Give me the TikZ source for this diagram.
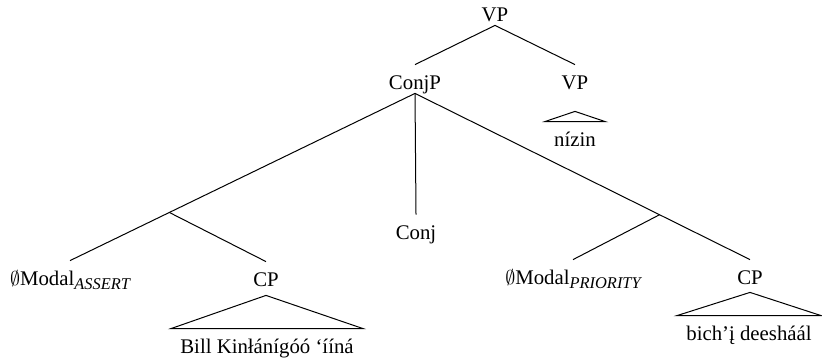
\documentclass[tikz,border=0pt]{standalone}
\usepackage{fontspec}
\setmainfont{Liberation Serif}
\usepackage{tikz}
\usetikzlibrary{calc}
\newcommand{\modsub}[1]{\raisebox{-2pt}{\fontsize{8.2}{9}\selectfont\itshape #1}}

\begin{document}
\begin{tikzpicture}[
    x=0.5pt, y=-0.5pt,
    synnode/.style={inner sep=0pt, anchor=base, text height=12pt, text depth=2pt,
        font=\fontsize{10.4}{12}\selectfont},
    roofleaf/.style={synnode, inner xsep=4.5pt},
    branch/.style={line width=0.5pt}
]
\useasboundingbox (0,0) rectangle (822,360);

\node[synnode] (vp) at (495,21) {VP};
\node[synnode] (conjp) at (415,89) {ConjP};
\node[synnode] (vpr) at (575,89) {VP};
\node[roofleaf] (nizin) at (575,146) {nízin};

\node[synnode] (conj) at (416,239) {Conj};
\node[synnode] (modA) at (70,285) {$\emptyset$Modal\modsub{ASSERT}};
\node[synnode] (cpA) at (266,286) {CP};
\node[roofleaf] (bill) at (267,353) {Bill Kinłánígóó ‘ííná};
\node[synnode] (modP) at (573,284) {$\emptyset$Modal\modsub{PRIORITY}};
\node[synnode] (cpP) at (750,284) {CP};
\node[roofleaf] (bich) at (749,340) {bich’į deesháál};

\coordinate (bA) at ($(conjp.south)!0.712!(modA.north)$);
\coordinate (bP) at ($(conjp.south)!0.73!(cpP.north)$);

\draw[branch] (vp.south) -- (conjp.north);
\draw[branch] (vp.south) -- (vpr.north);
\draw[branch] (conjp.south) -- (conj.north);
\draw[branch] (conjp.south) -- (bA) -- (modA.north);
\draw[branch] (bA) -- (cpA.north);
\draw[branch] (conjp.south) -- (bP) -- (cpP.north);
\draw[branch] (bP) -- (modP.north);

\draw[branch] ([yshift=-9pt]vpr.south) -- (nizin.north east) -- (nizin.north west) -- cycle;
\draw[branch] ([yshift=-2.5pt]cpA.south) -- (bill.north east) -- (bill.north west) -- cycle;
\draw[branch] ([yshift=-2pt]cpP.south) -- (bich.north east) -- (bich.north west) -- cycle;
\end{tikzpicture}
\end{document}
